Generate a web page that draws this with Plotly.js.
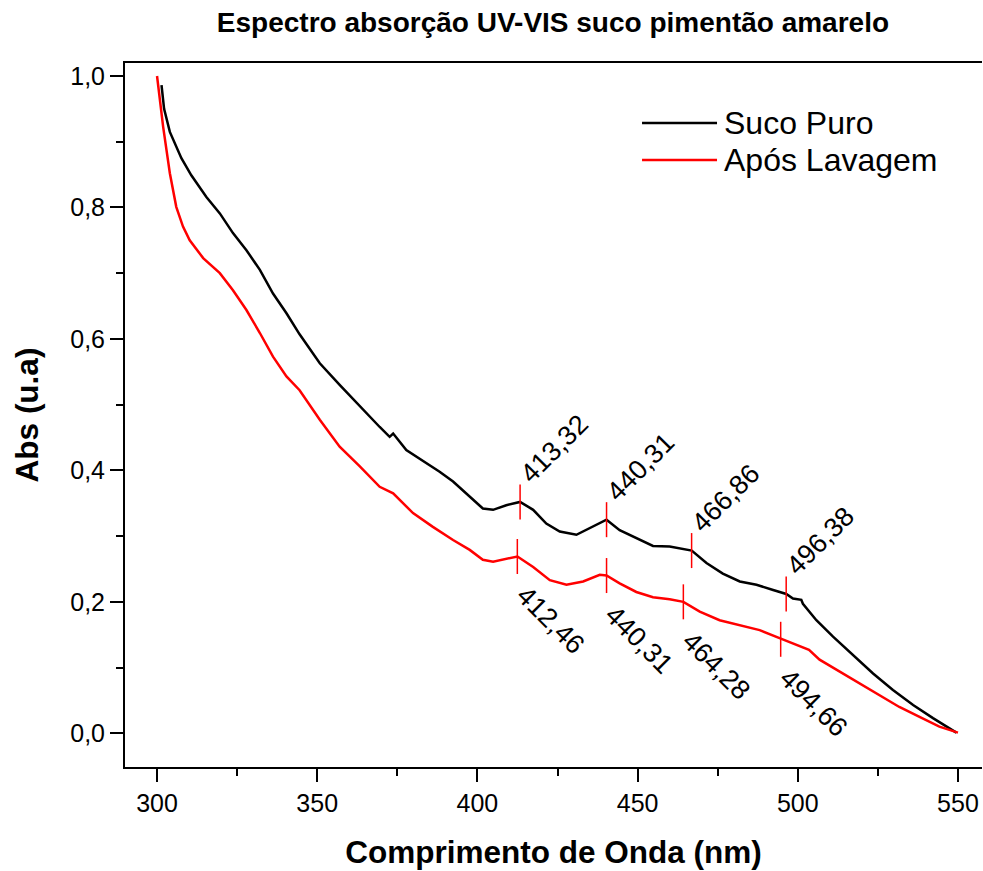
<!DOCTYPE html>
<html>
<head>
<meta charset="utf-8">
<script src="https://cdn.plot.ly/plotly-3.0.1.min.js"></script>
<style>html,body{margin:0;padding:0;background:#fff;}#chart{width:983px;height:871px;}</style>
</head>
<body>
<div id="chart"></div>
<script>
// ---- data ----
const seriesNames = ["Suco Puro", "Após Lavagem"];

const pureX = [301.4, 302.2, 304, 307.6, 310.7, 315.4, 319.6, 323.7, 327.9, 332.1, 336.2, 340.4, 344.5, 350.8, 357, 363.3, 369.5, 372.6, 373.7, 377.8, 382, 388.2, 392.4, 396.6, 401.7, 404.9, 409, 413.3, 417.4, 421.5, 425.7, 430.9, 435.1, 440.3, 444.4, 449.6, 454.8, 460, 466.9, 471.5, 476.6, 481.9, 487.1, 492.3, 496.4, 498.5, 501.1, 501.6, 505.8, 511, 517.2, 523.5, 529.7, 536, 542.2, 546.4, 549.5];
const pureY = [0.986, 0.950, 0.915, 0.875, 0.849, 0.816, 0.791, 0.761, 0.735, 0.705, 0.669, 0.639, 0.607, 0.563, 0.530, 0.497, 0.466, 0.451, 0.456, 0.431, 0.418, 0.398, 0.383, 0.365, 0.342, 0.340, 0.347, 0.352, 0.340, 0.319, 0.307, 0.302, 0.312, 0.325, 0.309, 0.297, 0.285, 0.284, 0.278, 0.259, 0.243, 0.231, 0.226, 0.218, 0.212, 0.205, 0.203, 0.197, 0.172, 0.147, 0.119, 0.091, 0.066, 0.043, 0.023, 0.010, 0.001];

const washX = [300, 301.9, 304, 306, 308.1, 310.2, 314.4, 319.6, 323.7, 327.9, 332.1, 336.2, 340.4, 344.5, 350.8, 357, 363.3, 369.5, 373.7, 379.9, 386.1, 392.4, 397.6, 401.7, 404.9, 409, 412.5, 417.4, 422.6, 427.8, 433, 438.2, 440.3, 444.4, 449.6, 454.8, 460, 464.3, 469.4, 475.6, 481.9, 488.1, 494.7, 498.5, 501.6, 503.5, 506.8, 513, 519.3, 525.5, 531.7, 538, 544.2, 550];
const washY = [1.0, 0.923, 0.852, 0.801, 0.771, 0.750, 0.723, 0.700, 0.674, 0.644, 0.609, 0.573, 0.543, 0.522, 0.477, 0.436, 0.406, 0.375, 0.365, 0.335, 0.314, 0.294, 0.279, 0.264, 0.261, 0.265, 0.269, 0.253, 0.233, 0.226, 0.231, 0.241, 0.240, 0.228, 0.215, 0.207, 0.204, 0.200, 0.185, 0.172, 0.165, 0.157, 0.144, 0.137, 0.131, 0.127, 0.112, 0.094, 0.076, 0.058, 0.040, 0.025, 0.010, 0.001];

const purePeakX = [413.32, 440.31, 466.86, 496.38];
const purePeakY = [0.352, 0.325, 0.278, 0.212];
const washPeakX = [412.46, 440.31, 464.28, 494.66];
const washPeakY = [0.269, 0.240, 0.200, 0.143];

const xTicks = [300, 350, 400, 450, 500, 550];
const yTicks = [0.0, 0.2, 0.4, 0.6, 0.8, 1.0];

// ---- chart ----
const FONT = "Liberation Sans, Arial, sans-serif";
const fmt = v => v.toFixed(2).replace('.', ',');

const traces = [
  {x: pureX, y: pureY, mode: 'lines', name: seriesNames[0], line: {color: '#000000', width: 2.5}},
  {x: washX, y: washY, mode: 'lines', name: seriesNames[1], line: {color: '#ff0000', width: 2.5}},
  {x: purePeakX.concat(washPeakX), y: purePeakY.concat(washPeakY), mode: 'markers', showlegend: false,
   marker: {symbol: 'line-ns-open', size: 25, color: '#ff0000', line: {color: '#ff0000', width: 1.5}}}
];

const annotations = [];
purePeakX.forEach((x, i) => annotations.push({
  x: x, y: purePeakY[i], xref: 'x', yref: 'y', text: fmt(x), showarrow: false,
  textangle: -45, xanchor: 'center', yanchor: 'middle', xshift: 34, yshift: 53,
  font: {family: FONT, size: 27, color: '#000'}
}));
washPeakX.forEach((x, i) => annotations.push({
  x: x, y: washPeakY[i], xref: 'x', yref: 'y', text: fmt(x), showarrow: false,
  textangle: 45, xanchor: 'center', yanchor: 'middle', xshift: 33, yshift: -64,
  font: {family: FONT, size: 27, color: '#000'}
}));
// legend (manual)
const legColors = ['#000000', '#ff0000'];
const legY = [0.9148, 0.8622];
const shapes = [];
seriesNames.forEach((n, i) => {
  shapes.push({type: 'line', xref: 'paper', yref: 'paper', x0: 0.6033, x1: 0.6908, y0: legY[i], y1: legY[i],
               line: {color: legColors[i], width: 2.5}});
  annotations.push({xref: 'paper', yref: 'paper', x: 0.6965, y: legY[i], text: n, showarrow: false,
                    xanchor: 'left', yanchor: 'middle', font: {family: FONT, size: 32, color: '#000'}});
});

const layout = {
  width: 983, height: 871,
  margin: {l: 125, r: 1, t: 63, b: 104},
  paper_bgcolor: '#fff', plot_bgcolor: '#fff',
  separators: ',.',
  showlegend: false,
  title: {text: 'Espectro absorção UV-VIS suco pimentão amarelo', x: 0.5625, xanchor: 'center', y: 0.975, yanchor: 'middle',
          font: {family: FONT, size: 28, color: '#000', weight: 'bold'}},
  xaxis: {
    range: [290, 557.5], tickvals: xTicks, ticktext: xTicks.map(String),
    showgrid: false, zeroline: false, showline: true, linecolor: '#000', linewidth: 2, mirror: true,
    ticks: 'outside', ticklen: 13, tickwidth: 2, tickcolor: '#000',
    minor: {dtick: 25, tick0: 0, ticks: 'outside', ticklen: 7, tickwidth: 2, tickcolor: '#000', showgrid: false},
    tickfont: {family: FONT, size: 25, color: '#000'},
    title: {text: 'Comprimento de Onda (nm)', standoff: 25, font: {family: FONT, size: 31.5, color: '#000', weight: 'bold'}},
    automargin: false
  },
  yaxis: {
    range: [-0.0513, 1.0198], tickvals: yTicks, tickformat: '.1f',
    showgrid: false, zeroline: false, showline: true, linecolor: '#000', linewidth: 2, mirror: false,
    ticks: 'outside', ticklen: 13, tickwidth: 2, tickcolor: '#000',
    minor: {dtick: 0.1, tick0: 0, ticks: 'outside', ticklen: 7, tickwidth: 2, tickcolor: '#000', showgrid: false},
    tickfont: {family: FONT, size: 25, color: '#000'},
    title: {text: 'Abs (u.a)', standoff: 22, font: {family: FONT, size: 31.5, color: '#000', weight: 'bold'}},
    automargin: false
  },
  annotations: annotations,
  shapes: shapes
};

Plotly.newPlot('chart', traces, layout, {displayModeBar: false, staticPlot: true});
</script>
</body>
</html>
